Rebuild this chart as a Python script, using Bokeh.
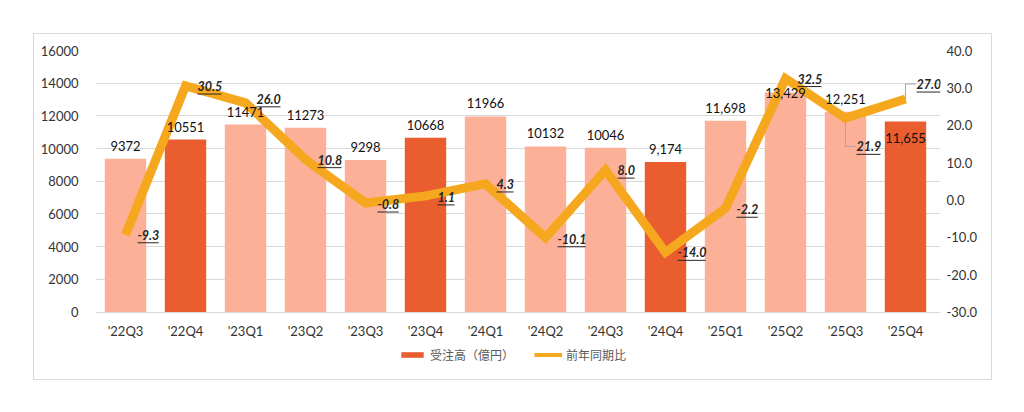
from bokeh.plotting import figure
from bokeh.models import (Range1d, LinearAxis, FixedTicker, ColumnDataSource,
                          Legend, LegendItem, NumeralTickFormatter, LabelSet)
from bokeh.embed import file_html
from bokeh.resources import INLINE
from bokeh.core.properties import value

# ---------------- data ----------------
quarters = ["'22Q3", "'22Q4", "'23Q1", "'23Q2", "'23Q3", "'23Q4", "'24Q1",
            "'24Q2", "'24Q3", "'24Q4", "'25Q1", "'25Q2", "'25Q3", "'25Q4"]
orders = [9372, 10551, 11471, 11273, 9298, 10668, 11966,
          10132, 10046, 9174, 11698, 13429, 12251, 11655]
order_labels = ["9372", "10551", "11471", "11273", "9298", "10668", "11966",
                "10132", "10046", "9,174", "11,698", "13,429", "12,251", "11,655"]
yoy = [-9.3, 30.5, 26.0, 10.8, -0.8, 1.1, 4.3, -10.1, 8.0, -14.0, -2.2, 32.5, 21.9, 27.0]
yoy_labels = ["-9.3", "30.5", "26.0", "10.8", "-0.8", "1.1", "4.3", "-10.1",
              "8.0", "-14.0", "-2.2", "32.5", "21.9", "27.0"]
left_ticks = [0, 2000, 4000, 6000, 8000, 10000, 12000, 14000, 16000]
right_ticks = [-30, -20, -10, 0, 10, 20, 30, 40]
LEFT_MAX, RIGHT_MIN, RIGHT_MAX = 16000, -30, 40

# ---------------- styles ----------------
LIGHT = "#FCB098"
DARK = "#E95D2E"
LINE = "#F5A81E"
GRID = "#D9D9D9"
FONT = "Lato"
JFONT = "Noto Sans CJK JP"

W, H = 957, 345
ML, MT, MB = 61, 16, 0
DATA_W = 838                  # pixels taken by the 14 categories
SPILL = 5                     # extra frame room on the right for the last label
MR = W - ML - DATA_W - SPILL
FH = H - MT - MB
DATA_H = 260                  # pixels between value 0 and the top of the axes
EXTRA = FH - DATA_H           # room below zero for category labels and legend
n = len(quarters)
px_x = DATA_W / n
px_l = DATA_H / LEFT_MAX
px_r = DATA_H / (RIGHT_MAX - RIGHT_MIN)

bar_lab_dy = [-8, -8, -8, -8, -8, -8, -8, -8, -8, -8, -8, 5, -8, 21]
line_lab_dx = [12, 12, 11, 12, 12, 12, 11, 12, 12, 12, 11, 12, 11, 11]
line_lab_dy = [0, 0, -4, 0, 1, 1, 0, 1, 0, 0, 1, 0, 28, -15]

xs = list(range(n))
bar_colors = [DARK if q.endswith("Q4") else LIGHT for q in quarters]

p = figure(width=W, height=H, output_backend="svg", toolbar_location=None,
           x_range=Range1d(-0.5, n - 0.5 + SPILL / px_x),
           y_range=Range1d(-EXTRA / px_l, LEFT_MAX),
           min_border_left=ML, min_border_right=MR, min_border_top=MT,
           min_border_bottom=MB)
p.margin = (33, 25, 25, 33)
p.styles = {"border": "1px solid #D9D9D9", "box-sizing": "content-box"}
p.outline_line_color = None
p.extra_y_ranges = {"pct": Range1d(RIGHT_MIN - EXTRA / px_r, RIGHT_MAX)}
p.xaxis.visible = False

p.xgrid.grid_line_color = None
p.ygrid.ticker = FixedTicker(ticks=left_ticks)
p.ygrid.bounds = (-0.5, n - 0.5)
p.ygrid.grid_line_color = GRID
p.ygrid.grid_line_width = 1

bsrc = ColumnDataSource(dict(x=xs, top=orders, color=bar_colors, lab=order_labels,
                             dy=bar_lab_dy, q=quarters, zero=[0] * n))
bars = p.vbar(x="x", top="top", width=0.69, fill_color="color", line_color=None,
              source=bsrc)

lsrc = ColumnDataSource(dict(x=xs, y=yoy, lab=yoy_labels, dx=line_lab_dx,
                             ndy=[-d for d in line_lab_dy]))
p.line("x", "y", source=lsrc, y_range_name="pct", line_color=LINE, line_width=9,
       line_join="miter")

# leader lines for the two relocated labels
for i in (12, 13):
    ly = yoy[i] - line_lab_dy[i] / px_r
    p.line([xs[i], xs[i], xs[i] + (line_lab_dx[i] - 1) / px_x], [yoy[i], ly, ly],
           y_range_name="pct", line_color="#A6A6A6", line_width=1)

# bar value labels
p.text("x", "top", text="lab", source=bsrc, text_align="center",
       text_baseline="bottom", y_offset="dy", text_font=value(FONT),
       text_font_size="13px", text_color="#111111")

# category labels
p.text("x", "zero", text="q", source=bsrc, text_align="center",
       text_baseline="top", y_offset=11, text_font=value(FONT),
       text_font_size="13px", text_color="#333333")

# yoy labels (bold italic, underlined)
yl = LabelSet(x="x", y="y", text="lab", source=lsrc, y_range_name="pct",
              x_offset="dx", y_offset="ndy", text_align="left",
              text_baseline="middle", text_font=value(FONT),
              text_font_size="12.5px", text_font_style="bold italic",
              text_color="#262626")
p.add_layout(yl)

def text_w(s):
    return sum(3.2 if c == "." else 4.2 if c == "-" else 6.9 for c in s)

ux0, ux1, uy = [], [], []
for i in range(n):
    ux0.append(xs[i] + line_lab_dx[i] / px_x)
    ux1.append(xs[i] + (line_lab_dx[i] + text_w(yoy_labels[i])) / px_x)
    uy.append(yoy[i] - (line_lab_dy[i] + 8) / px_r)
p.segment(ux0, uy, ux1, uy, y_range_name="pct", line_color="#262626", line_width=1)

# axes
p.yaxis.ticker = FixedTicker(ticks=left_ticks)
p.yaxis.axis_line_color = None
p.yaxis.major_tick_line_color = None
p.yaxis.minor_tick_line_color = None
p.yaxis.major_label_standoff = 11
p.yaxis.major_label_text_font = FONT
p.yaxis.major_label_text_font_size = "13px"
p.yaxis.major_label_text_color = "#333333"

r_axis = LinearAxis(y_range_name="pct", ticker=FixedTicker(ticks=right_ticks),
                    formatter=NumeralTickFormatter(format="0.0"))
r_axis.axis_line_color = None
r_axis.major_tick_line_color = None
r_axis.minor_tick_line_color = None
r_axis.major_tick_out = 0
r_axis.major_tick_in = 0
r_axis.minor_tick_out = 0
r_axis.major_label_standoff = 6
r_axis.major_label_text_font = FONT
r_axis.major_label_text_font_size = "13px"
r_axis.major_label_text_color = "#333333"
p.add_layout(r_axis, "right")

# legend
nan = float("nan")
leg_line = p.line([0, 1], [nan, nan], line_color=LINE, line_width=4)
legend = Legend(items=[LegendItem(label="受注高（億円）", renderers=[bars], index=1),
                       LegendItem(label="前年同期比", renderers=[leg_line])],
                orientation="horizontal", location=(303, 18),
                label_text_font=JFONT, label_text_font_size="12px",
                label_text_color="#595959", glyph_width=28, glyph_height=7,
                label_standoff=4, spacing=20, padding=2, margin=0,
                border_line_color=None, background_fill_alpha=0)
p.add_layout(legend, "center")

open("out.html", "w").write(file_html(p, INLINE))
